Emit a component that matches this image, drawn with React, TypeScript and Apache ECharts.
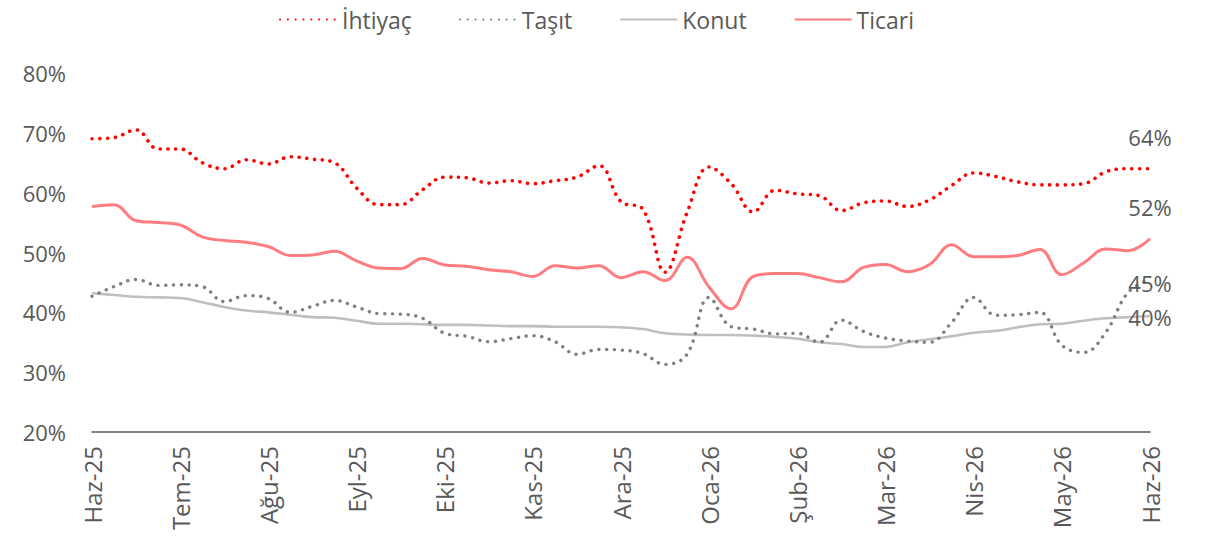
import React, { useEffect, useRef } from "react";
import * as echarts from "echarts";

const monthLabels = ["Haz-25", "Tem-25", "Ağu-25", "Eyl-25", "Eki-25", "Kas-25", "Ara-25", "Oca-26", "Şub-26", "Mar-26", "Nis-26", "May-26", "Haz-26"];
const pointsPerMonth = 4;

const ihtiyac = [69.0, 69.2, 70.5, 67.3, 67.3, 65.0, 64.0, 65.5, 64.8, 66.0, 65.6, 65.0, 60.8, 58.0, 58.0, 60.5, 62.6, 62.5, 61.6, 62.0, 61.5, 62.0, 62.6, 64.5, 58.5, 57.2, 46.7, 56.7, 64.3, 61.5, 56.8, 60.4, 59.8, 59.5, 57.0, 58.3, 58.6, 57.7, 58.8, 61.2, 63.3, 62.7, 61.8, 61.3, 61.3, 61.5, 63.5, 64.0, 64.0];
const tasit = [42.7, 44.3, 45.5, 44.5, 44.6, 44.3, 41.8, 42.8, 42.3, 40.0, 41.0, 42.0, 40.9, 39.8, 39.7, 39.0, 36.5, 36.0, 35.1, 35.6, 36.1, 35.1, 33.0, 33.8, 33.7, 33.1, 31.3, 33.0, 42.5, 37.6, 37.2, 36.4, 36.5, 35.0, 38.7, 36.8, 35.7, 35.2, 35.0, 38.3, 42.5, 39.5, 39.6, 40.0, 34.5, 33.3, 36.7, 43.3, 45.5];
const konut = [43.2, 42.9, 42.6, 42.5, 42.4, 41.7, 40.9, 40.3, 40.0, 39.6, 39.2, 39.1, 38.6, 38.1, 38.1, 38.0, 37.9, 37.9, 37.8, 37.7, 37.7, 37.6, 37.6, 37.6, 37.5, 37.2, 36.5, 36.3, 36.2, 36.2, 36.1, 35.9, 35.6, 35.0, 34.7, 34.2, 34.2, 35.0, 35.5, 36.0, 36.6, 36.9, 37.5, 38.0, 38.1, 38.6, 39.0, 39.2, 39.4];
const ticari = [57.7, 58.0, 55.3, 55.0, 54.6, 52.6, 52.0, 51.7, 51.0, 49.5, 49.6, 50.2, 48.6, 47.4, 47.3, 49.0, 47.9, 47.7, 47.1, 46.8, 46.0, 47.8, 47.4, 47.8, 45.8, 46.8, 45.3, 49.2, 44.2, 40.6, 46.0, 46.5, 46.5, 45.8, 45.1, 47.5, 48.0, 46.8, 48.0, 51.3, 49.3, 49.3, 49.5, 50.5, 46.3, 48.3, 50.6, 50.3, 52.3];
const endLabels = ["64%", "45%", "40%", "52%"];

const FONT = "Open Sans";
const TXT = "#595959";

export default function App() {
  const ref = useRef<HTMLDivElement>(null);
  useEffect(() => {
    if (!ref.current) return;
    const chart = echarts.init(ref.current, undefined, { renderer: "svg" });
    const n = ihtiyac.length;
    const cats = Array.from({ length: n }, (_, i) => String(i));
    const last = n - 1;
    const endMark = (val: number, text: string, offset: number[]) => ({
      symbol: "circle",
      symbolSize: 0,
      silent: true,
      data: [{ coord: [String(last), val], value: text }],
      label: {
        show: true,
        position: "inside",
        offset,
        formatter: text,
        color: TXT,
        fontSize: 22,
        fontFamily: FONT,
      },
    });
    const dotted = (color: string, w: number) => ({
      color,
      width: w,
      type: [0.1, 7.7],
      cap: "round",
    });
    chart.setOption({
      animation: false,
      backgroundColor: "#ffffff",
      textStyle: { fontFamily: FONT },
      legend: {
        top: 3,
        left: 274,
        itemWidth: 57,
        itemHeight: 10,
        itemGap: 47,
        itemStyle: { opacity: 0 },
        textStyle: { color: TXT, fontSize: 23, fontFamily: FONT },
        data: ["İhtiyaç", "Taşıt", "Konut", "Ticari"],
      },
      grid: { left: 92, right: 65, top: 73, bottom: 105, containLabel: false },
      xAxis: {
        type: "category",
        boundaryGap: false,
        data: cats,
        axisLine: { show: true, lineStyle: { color: "#595959", width: 1.5 } },
        axisTick: { show: false },
        splitLine: { show: false },
        axisLabel: {
          rotate: 90,
          interval: (idx: number) => idx % pointsPerMonth === 0,
          formatter: (_v: string, idx: number) => (idx % pointsPerMonth === 0 ? monthLabels[idx / pointsPerMonth] : ""),
          color: TXT,
          fontSize: 24,
          fontFamily: FONT,
          margin: 14,
        },
      },
      yAxis: {
        type: "value",
        min: 20,
        max: 80,
        interval: 10,
        axisLine: { show: false },
        axisTick: { show: false },
        splitLine: { show: false },
        axisLabel: {
          formatter: "{value}%",
          color: TXT,
          fontSize: 22,
          fontFamily: FONT,
          margin: 26,
        },
      },
      series: [
        {
          name: "İhtiyaç",
          type: "line",
          data: ihtiyac,
          smooth: 0.4,
          showSymbol: false,
          symbol: "none",
          lineStyle: dotted("#FF0000", 3.6),
          itemStyle: { color: "#FF0000" },
          markPoint: endMark(ihtiyac[last], endLabels[0], [0, -32]),
          z: 4,
        },
        {
          name: "Taşıt",
          type: "line",
          data: tasit,
          smooth: 0.4,
          showSymbol: false,
          symbol: "none",
          lineStyle: dotted("#7F7F7F", 3.4),
          itemStyle: { color: "#7F7F7F" },
          markPoint: endMark(tasit[last], endLabels[1], [0, 4]),
          z: 3,
        },
        {
          name: "Konut",
          type: "line",
          data: konut,
          smooth: 0.4,
          showSymbol: false,
          symbol: "none",
          lineStyle: { color: "#BFBFBF", width: 2.6 },
          itemStyle: { color: "#BFBFBF" },
          markPoint: endMark(konut[last], endLabels[2], [0, 1]),
          z: 2,
        },
        {
          name: "Ticari",
          type: "line",
          data: ticari,
          smooth: 0.4,
          showSymbol: false,
          symbol: "none",
          lineStyle: { color: "#FF7C80", width: 3 },
          itemStyle: { color: "#FF7C80" },
          markPoint: endMark(ticari[last], endLabels[3], [0, -32]),
          z: 2,
        },
      ],
    });
    return () => chart.dispose();
  }, []);
  return (
    <div
      ref={ref}
      style={{ position: "fixed", left: 0, top: 0, width: 1215, height: 537, background: "#fff" }}
    />
  );
}
